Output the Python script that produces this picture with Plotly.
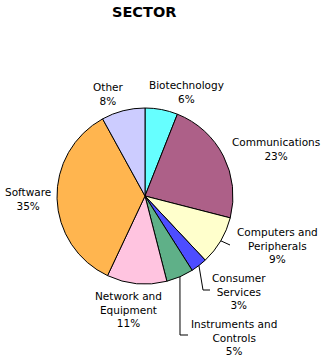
import math
import plotly.graph_objects as go

sectors = ["Biotechnology", "Communications", "Computers and<br>Peripherals",
           "Consumer<br>Services", "Instruments and<br>Controls",
           "Network and<br>Equipment", "Software", "Other"]
shares = [6, 23, 9, 3, 5, 11, 35, 8]
colors = ["#66FFFF", "#AD6088", "#FFFFCC", "#4D4DFF", "#5FB088",
          "#FFC4E0", "#FFB54F", "#CCCCFF"]

W, H = 329, 359
CX, CY, R = 145, 196, 88

def px(x):
    return x / W

def py(y):
    return 1 - y / H

fig = go.Figure(go.Pie(
    labels=sectors, values=shares, sort=False, direction="clockwise",
    rotation=0, textinfo="none", hoverinfo="label+percent",
    marker=dict(colors=colors, line=dict(color="black", width=1)),
    domain=dict(x=[px(CX - R), px(CX + R)], y=[py(CY + R), py(CY - R)]),
    showlegend=False,
))

# label placement (pixel centres of the text blocks)
label_pos = [(186, 92), (276, 149), (277, 245), (239, 291), (234, 337),
             (128, 309), (28, 199), (108, 94)]

total = sum(shares)
annotations = []
for name, v, (lx, ly) in zip(sectors, shares, label_pos):
    pct = round(100 * v / total)
    annotations.append(dict(
        x=px(lx), y=py(ly), xref="paper", yref="paper",
        text=f"{name}<br>{pct}%", showarrow=False, align="center",
        font=dict(family="DejaVu Sans", size=10.5, color="black"),
        xanchor="center", yanchor="middle",
    ))

annotations.append(dict(
    x=px(144), y=py(12), xref="paper", yref="paper", text="<b>SECTOR</b>",
    showarrow=False, font=dict(family="DejaVu Sans", size=14.5, color="black"),
    xanchor="center", yanchor="middle",
))

def edge_point(idx):
    start = sum(shares[:idx])
    mid = (start + shares[idx] / 2) / total * 2 * math.pi
    return CX + R * math.sin(mid), CY - R * math.cos(mid)

# leader lines for the small slices on the lower right
leaders = {2: [(230, 245)], 3: [(203, 290), (210, 290)], 4: [(180, 335), (188, 335)]}
shapes = []
for idx, pts in leaders.items():
    x0, y0 = edge_point(idx)
    path = [(x0, y0)] + pts
    for (a, b), (c, d) in zip(path[:-1], path[1:]):
        shapes.append(dict(type="line", xref="paper", yref="paper",
                           x0=px(a), y0=py(b), x1=px(c), y1=py(d),
                           line=dict(color="black", width=1)))

fig.update_layout(
    width=W, height=H, margin=dict(l=0, r=0, t=0, b=0),
    paper_bgcolor="white", plot_bgcolor="white",
    annotations=annotations, shapes=shapes,
)

fig.write_html("out.html")
